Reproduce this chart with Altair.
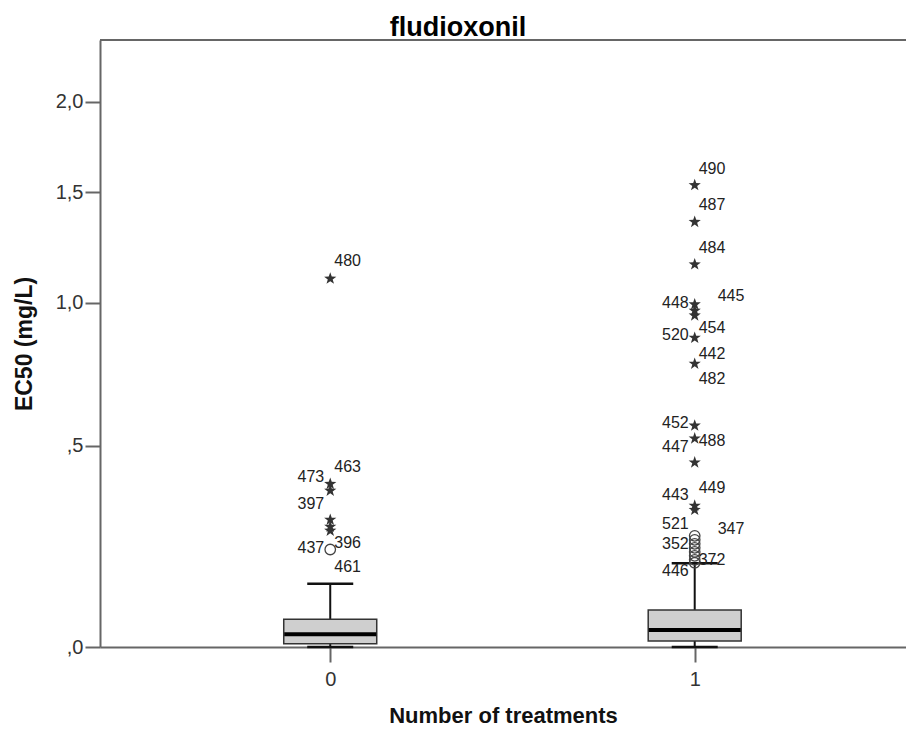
import altair as alt
import pandas as pd

# ---- data ----
groups = [0, 1]
q1 = [0.0067, 0.0122]
median = [0.026, 0.0349]
q3 = [0.0575, 0.0775]
whisker_low = [0.0, 0.0]
whisker_high = [0.136, 0.184]

# extreme outliers (stars)
stars_g0 = [1.100, 0.389, 0.370, 0.292, 0.274, 0.264]
stars_g1 = [1.535, 1.354, 1.161, 0.994, 0.969, 0.950, 0.864, 0.769,
            0.562, 0.522, 0.450, 0.329, 0.318]
# mild outliers (circles)
circles_g0 = [0.217]
circles_g1 = [0.251, 0.241, 0.231, 0.221, 0.211, 0.2015, 0.192, 0.185]

# case labels: (group, text, value at label)
labels_left = [(0, "473", 0.409), (0, "397", 0.334), (0, "437", 0.221),
               (1, "448", 1.000), (1, "520", 0.873), (1, "452", 0.569),
               (1, "447", 0.495), (1, "443", 0.358), (1, "521", 0.282),
               (1, "352", 0.230), (1, "446", 0.166)]
labels_right = [(0, "480", 1.176), (0, "463", 0.436), (0, "396", 0.233),
                (0, "461", 0.175), (1, "490", 1.618), (1, "487", 1.438),
                (1, "484", 1.233), (1, "454", 0.902), (1, "442", 0.805),
                (1, "482", 0.714), (1, "488", 0.513), (1, "449", 0.377),
                (1, "372", 0.192)]
labels_far = [(1, "445", 1.027), (1, "347", 0.268)]

y_ticks = [0, 0.5, 1.0, 1.5, 2.0]

# ---- tables ----
box = pd.DataFrame({"g": groups, "q1": q1, "med": median, "q3": q3,
                    "lo": whisker_low, "hi": whisker_high})
stars = pd.DataFrame({"g": [0] * len(stars_g0) + [1] * len(stars_g1),
                      "v": stars_g0 + stars_g1})
circles = pd.DataFrame({"g": [0] * len(circles_g0) + [1] * len(circles_g1),
                        "v": circles_g0 + circles_g1})
lab_l = pd.DataFrame(labels_left, columns=["g", "t", "v"])
lab_r = pd.DataFrame(labels_right, columns=["g", "t", "v"])
lab_f = pd.DataFrame(labels_far, columns=["g", "t", "v"])

FONT = "Liberation Sans"
W, H = 806, 607
AX = "#666666"

xs = alt.Scale(domain=[-0.618, 1.566], nice=False, zero=False)
ys = alt.Scale(type="symlog", constant=1, domain=[0, 2.396], nice=False)

x_enc = alt.X("g:Q", scale=xs, title="Number of treatments",
              axis=alt.Axis(values=groups, labelExpr="format(datum.value, 'd')",
                            grid=False, tickSize=15, tickColor=AX, tickWidth=2,
                            domainColor=AX, domainWidth=2, labelFont=FONT,
                            labelFontSize=20, labelColor="#333333",
                            labelPadding=7, titleFont=FONT, titleFontSize=22,
                            titleFontWeight="bold", titleColor="#111111",
                            titlePadding=16))

y_axis = alt.Axis(values=y_ticks,
                  labelExpr="replace(replace(format(datum.value, '.1f'), '.', ','), '0,', ',')",
                  grid=False, tickSize=15, tickColor=AX, tickWidth=2,
                  domainColor=AX, domainWidth=2, labelFont=FONT,
                  labelFontSize=20, labelColor="#333333", labelPadding=2,
                  titleFont=FONT, titleFontSize=23, titleFontWeight="bold",
                  titleColor="#111111", titleX=-76, titleBaseline="middle")

base_box = alt.Chart(box)

whisk_up = base_box.mark_rule(color="#111111", strokeWidth=2).encode(
    x=x_enc, y=alt.Y("q3:Q", scale=ys, title="EC50 (mg/L)", axis=y_axis),
    y2="hi:Q")
whisk_lo = base_box.mark_rule(color="#111111", strokeWidth=2).encode(
    x="g:Q", y=alt.Y("lo:Q", scale=ys), y2="q1:Q")
cap_hi = base_box.mark_tick(orient="horizontal", size=46, thickness=2.5,
                            color="#111111", opacity=1).encode(
    x="g:Q", y=alt.Y("hi:Q", scale=ys))
cap_lo = base_box.mark_tick(orient="horizontal", size=46, thickness=2.5,
                            color="#111111", opacity=1).encode(
    x="g:Q", y=alt.Y("lo:Q", scale=ys))
boxes = base_box.mark_bar(size=93, color="#cfcfcf", stroke="#333333",
                          strokeWidth=1.5).encode(
    x="g:Q", y=alt.Y("q1:Q", scale=ys), y2="q3:Q")
med = base_box.mark_tick(orient="horizontal", size=92, thickness=4,
                         color="#000000", opacity=1).encode(
    x="g:Q", y=alt.Y("med:Q", scale=ys))

STAR = ("M0,-1L0.235,-0.324L0.951,-0.309L0.38,0.124L0.588,0.809L0,0.4"
        "L-0.588,0.809L-0.38,0.124L-0.951,-0.309L-0.235,-0.324Z")
star_pts = alt.Chart(stars).mark_point(shape=STAR, size=165, filled=True,
                                       color="#333333", opacity=1).encode(
    x="g:Q", y=alt.Y("v:Q", scale=ys))
circ_pts = alt.Chart(circles).mark_point(shape="circle", size=110, filled=False,
                                         color="#444444", strokeWidth=1.3,
                                         opacity=1).encode(
    x="g:Q", y=alt.Y("v:Q", scale=ys))

def labels(df, align, dx):
    return alt.Chart(df).mark_text(align=align, baseline="middle", dx=dx,
                                   font=FONT, fontSize=16,
                                   color="#222222").encode(
        x="g:Q", y=alt.Y("v:Q", scale=ys), text="t:N")

top_rule = alt.Chart(box).mark_rule(color=AX, strokeWidth=2).encode(
    x=alt.value(0), x2=alt.value(W), y=alt.value(0))

chart = alt.layer(
    whisk_up, whisk_lo, cap_hi, cap_lo, boxes, med, circ_pts, star_pts,
    labels(lab_l, "right", -6), labels(lab_r, "left", 4),
    labels(lab_f, "left", 23), top_rule,
).properties(
    width=W, height=H,
    title=alt.TitleParams("fludioxonil", font=FONT, fontSize=27,
                          fontWeight="bold", color="#000000",
                          anchor="middle", dx=-45, offset=-3),
    autosize=alt.AutoSizeParams(type="none"),
    padding={"left": 92, "top": 32, "right": 0, "bottom": 81},
).configure_view(stroke=None)

chart.save("out.html", embed_options={"renderer": "svg", "actions": False})
